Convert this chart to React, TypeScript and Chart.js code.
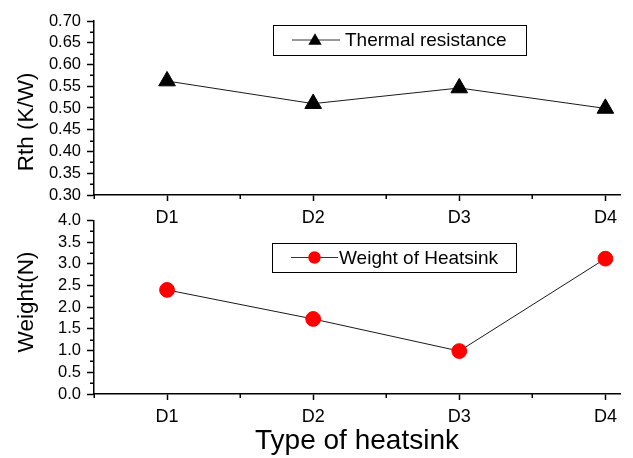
import React, { useEffect, useRef } from 'react';
import { Chart, registerables } from 'chart.js';

Chart.register(...registerables);

// ---------- data ----------
const categories = ['D1', 'D2', 'D3', 'D4'];
const categoryPositions = [1, 2, 3, 4];
const rthValues = [0.562, 0.51, 0.546, 0.499];
const weightValues = [2.4, 1.73, 0.99, 3.12];
const rthTicks = [0.3, 0.35, 0.4, 0.45, 0.5, 0.55, 0.6, 0.65, 0.7];
const weightTicks = [0, 0.5, 1, 1.5, 2, 2.5, 3, 3.5, 4];
const rthAxisTitle = 'Rth (K/W)';
const weightAxisTitle = 'Weight(N)';
const xAxisTitle = 'Type of heatsink';
const rthLegend = 'Thermal resistance';
const weightLegend = 'Weight of Heatsink';

const FONT = '"Liberation Sans", Arial, Helvetica, sans-serif';
const W = 633;
const H = 458;

type PanelOpts = {
  values: number[];
  ticks: number[];
  decimals: number;
  pointStyle: string;
  color: string;
  radius: number;
  padTop: number;
  xHeight: number;
  label: string;
  drawExtra: (chart: any) => void;
};

function drawMinorTicks(chart: any, ticks: number[]) {
  const ctx = chart.ctx;
  const ys = chart.scales.y;
  const xs = chart.scales.x;
  const { left, bottom } = chart.chartArea;
  ctx.save();
  ctx.strokeStyle = '#000';
  ctx.lineWidth = 1.5;
  ctx.beginPath();
  for (let i = 0; i < ticks.length - 1; i++) {
    const mid = (ticks[i] + ticks[i + 1]) / 2;
    const py = Math.round(ys.getPixelForValue(mid)) + 0.25;
    ctx.moveTo(left - 4, py);
    ctx.lineTo(left, py);
  }
  categoryPositions.forEach((v) => {
    const px = Math.round(xs.getPixelForValue(v - 0.5)) + 0.25;
    ctx.moveTo(px, bottom);
    ctx.lineTo(px, bottom + 4);
  });
  ctx.stroke();
  ctx.restore();
}

function drawRotatedTitle(ctx: CanvasRenderingContext2D, text: string, x: number, y: number) {
  ctx.save();
  ctx.font = `22.5px ${FONT}`;
  ctx.fillStyle = '#000';
  ctx.translate(x, y);
  ctx.rotate(-Math.PI / 2);
  ctx.textAlign = 'center';
  ctx.textBaseline = 'alphabetic';
  ctx.fillText(text, 0, 0);
  ctx.restore();
}

function drawLegendBox(
  ctx: CanvasRenderingContext2D,
  box: { x: number; y: number; w: number; h: number },
  lineX0: number,
  lineX1: number,
  markerX: number,
  textX: number,
  text: string,
  marker: 'triangle' | 'circle'
) {
  const cy = box.y + box.h / 2;
  ctx.save();
  ctx.fillStyle = '#fff';
  ctx.fillRect(box.x, box.y, box.w, box.h);
  ctx.strokeStyle = '#000';
  ctx.lineWidth = 1;
  ctx.strokeRect(box.x + 0.5, box.y + 0.5, box.w, box.h);
  ctx.strokeStyle = '#333';
  ctx.lineWidth = 1;
  ctx.beginPath();
  ctx.moveTo(lineX0, cy);
  ctx.lineTo(lineX1, cy);
  ctx.stroke();
  if (marker === 'triangle') {
    const r = 7.7;
    const c = cy + 1;
    ctx.fillStyle = '#000';
    ctx.beginPath();
    ctx.moveTo(markerX, c - r);
    ctx.lineTo(markerX + r * 0.866, c + r / 2);
    ctx.lineTo(markerX - r * 0.866, c + r / 2);
    ctx.closePath();
    ctx.fill();
  } else {
    ctx.fillStyle = '#ff0000';
    ctx.beginPath();
    ctx.arc(markerX, cy, 6.2, 0, Math.PI * 2);
    ctx.fill();
  }
  ctx.fillStyle = '#000';
  ctx.font = `19px ${FONT}`;
  ctx.textAlign = 'left';
  ctx.textBaseline = 'middle';
  ctx.fillText(text, textX, cy + 1);
  ctx.restore();
}

function makeConfig(o: PanelOpts): any {
  return {
    type: 'line',
    data: {
      datasets: [
        {
          label: o.label,
          data: categoryPositions.map((x, i) => ({ x, y: o.values[i] })),
          borderColor: '#1a1a1a',
          borderWidth: 1,
          pointStyle: o.pointStyle,
          pointRadius: o.radius,
          pointBackgroundColor: o.color,
          pointBorderColor: o.color,
          pointBorderWidth: 1,
          tension: 0,
          clip: false,
        },
      ],
    },
    options: {
      responsive: false,
      maintainAspectRatio: false,
      animation: false,
      events: [],
      devicePixelRatio: 1,
      layout: { padding: { top: o.padTop, right: W - 620, left: 0, bottom: 0 } },
      plugins: { legend: { display: false }, tooltip: { enabled: false }, title: { display: false } },
      scales: {
        x: {
          type: 'linear',
          min: 0.5,
          max: 4.1,
          bounds: 'data',
          afterBuildTicks: (s: any) => {
            s.ticks = categoryPositions.map((v) => ({ value: v }));
          },
          afterFit: (s: any) => {
            s.height = o.xHeight;
          },
          ticks: {
            callback: (v: number) => {
              const idx = categoryPositions.indexOf(Number(v));
              return idx >= 0 ? categories[idx] : '';
            },
            font: { family: FONT, size: 18 },
            color: '#000',
            padding: 6,
            maxRotation: 0,
            autoSkip: false,
          },
          grid: { drawOnChartArea: false, tickLength: 6, tickWidth: 1.5, tickColor: '#000' },
          border: { color: '#000', width: 1.5 },
        },
        y: {
          type: 'linear',
          min: o.ticks[0],
          max: o.ticks[o.ticks.length - 1],
          afterBuildTicks: (s: any) => {
            s.ticks = o.ticks.map((v) => ({ value: v }));
          },
          afterFit: (s: any) => {
            s.width = 94;
          },
          ticks: {
            callback: (v: number) => Number(v).toFixed(o.decimals),
            font: { family: FONT, size: 16.5 },
            color: '#000',
            padding: 6,
            autoSkip: false,
          },
          grid: { drawOnChartArea: false, tickLength: 7, tickWidth: 1.5, tickColor: '#000' },
          border: { color: '#000', width: 1.5 },
        },
      },
    },
    plugins: [
      {
        id: 'extras',
        beforeDatasetsDraw: (chart: any) => o.drawExtra(chart),
      },
    ],
  };
}

export default function App() {
  const topRef = useRef<HTMLCanvasElement | null>(null);
  const botRef = useRef<HTMLCanvasElement | null>(null);

  useEffect(() => {
    document.body.style.margin = '0';
    document.body.style.background = '#fff';
    if (!topRef.current || !botRef.current) return;

    const top = new Chart(
      topRef.current,
      makeConfig({
        values: rthValues,
        ticks: rthTicks,
        decimals: 2,
        pointStyle: 'triangle',
        color: '#000',
        radius: 9.6,
        padTop: 21,
        xHeight: H - 195,
        label: rthLegend,
        drawExtra: (chart: any) => {
          const ctx = chart.ctx;
          drawMinorTicks(chart, rthTicks);
          drawRotatedTitle(ctx, rthAxisTitle, 33, 122);
          drawLegendBox(ctx, { x: 273, y: 25, w: 253, h: 30 }, 292, 340, 315, 345, rthLegend, 'triangle');
        },
      })
    );

    const bottom = new Chart(
      botRef.current,
      makeConfig({
        values: weightValues,
        ticks: weightTicks,
        decimals: 1,
        pointStyle: 'circle',
        color: '#ff0000',
        radius: 7.4,
        padTop: 220.5,
        xHeight: H - 394,
        label: weightLegend,
        drawExtra: (chart: any) => {
          const ctx = chart.ctx;
          drawMinorTicks(chart, weightTicks);
          drawRotatedTitle(ctx, weightAxisTitle, 33, 302);
          drawLegendBox(ctx, { x: 272, y: 243, w: 244, h: 29 }, 291, 338, 314.5, 339, weightLegend, 'circle');
          ctx.save();
          ctx.font = `28px ${FONT}`;
          ctx.fillStyle = '#000';
          ctx.textAlign = 'center';
          ctx.textBaseline = 'alphabetic';
          const { left, right } = chart.chartArea;
          ctx.fillText(xAxisTitle, (left + right) / 2, 449);
          ctx.restore();
        },
      })
    );

    return () => {
      top.destroy();
      bottom.destroy();
    };
  }, []);

  return (
    <div style={{ position: 'relative', width: W, height: H, background: '#fff' }}>
      <canvas ref={topRef} width={W} height={H} style={{ position: 'absolute', left: 0, top: 0 }} />
      <canvas ref={botRef} width={W} height={H} style={{ position: 'absolute', left: 0, top: 0 }} />
    </div>
  );
}
